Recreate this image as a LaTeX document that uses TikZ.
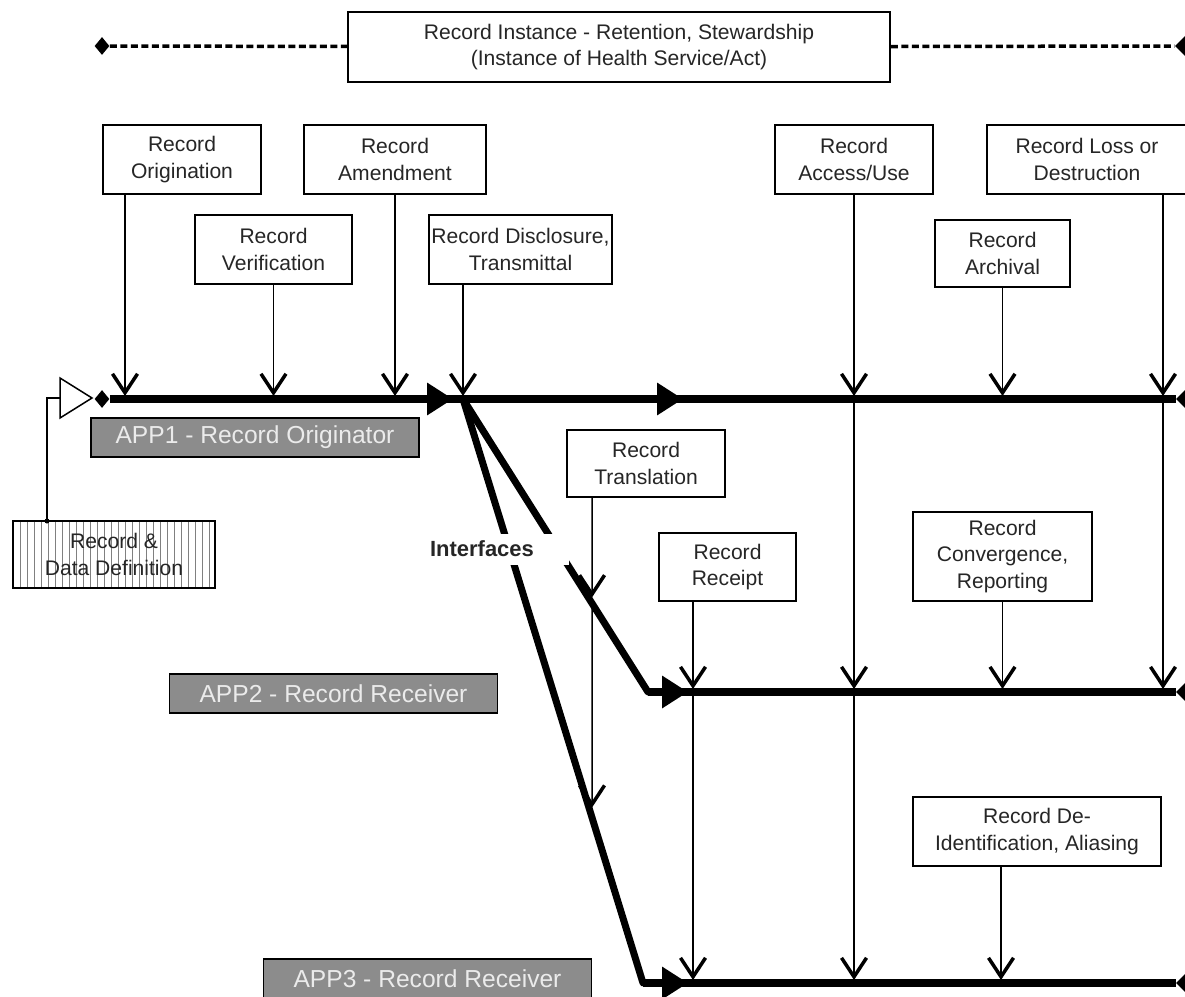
\documentclass[tikz,border=0pt]{standalone}
\usepackage{fontspec}
\setmainfont{Liberation Sans}
\usetikzlibrary{arrows.meta,shapes.geometric,calc}
\begin{document}
\begin{tikzpicture}[x=0.02cm,y=-0.02cm,
  box/.style={draw, line width=0.04cm, fill=white, align=center, inner sep=0, font=\fontsize{12}{15}\selectfont, text=black!85},
  applabel/.style={draw, line width=0.03cm, fill={rgb,255:red,140;green,140;blue,140}, text=white!92!black, font=\fontsize{14}{16}\selectfont, inner sep=0, minimum width=6.56cm, minimum height=0.78cm},
  mainline/.style={line width=0.16cm, line join=round},
  diagline/.style={line width=0.14cm, line cap=round},
  vline/.style={line width=0.03cm, -{Straight Barb[length=0.38cm,width=0.5cm,line width=0.07cm]}, shorten >=0.06cm},
  midtip/.style={line width=0.16cm, -{Triangle[length=0.52cm,width=0.62cm]}},
  enddot/.style={diamond, fill=black, inner sep=0, minimum width=0.4cm, minimum height=0.4cm},
  banner/.style={line width=0.07cm, dash pattern=on 0.14cm off 0.07cm},
]
\useasboundingbox (0,0) rectangle (1185,996);

% ---- top banner
\node[box, minimum width=10.84cm, minimum height=1.4cm] (top) at (619,47) {Record Instance - Retention, Stewardship\\(Instance of Health Service/Act)};
\node[enddot, minimum width=0.3cm, minimum height=0.36cm] (tl) at (102,46) {};
\node[enddot, minimum width=0.4cm, minimum height=0.4cm] (tr) at (1185,46) {};
\draw[banner] (tl) -- (top);
\draw[banner] (top) -- (tr);

% ---- event boxes
\node[box, minimum width=3.16cm, minimum height=1.38cm] (orig) at (182,159.5) {Record\\Origination};
\node[box, minimum width=3.14cm, minimum height=1.38cm] (verif) at (273.5,249.5) {Record\\Verification};
\node[box, minimum width=3.64cm, minimum height=1.38cm] (amend) at (395,159.5) {Record\\Amendment};
\node[box, minimum width=3.66cm, minimum height=1.38cm] (discl) at (520.5,249.5) {Record Disclosure,\\Transmittal};
\node[box, minimum width=3.16cm, minimum height=1.38cm] (access) at (854,159.5) {Record\\Access/Use};
\node[box, minimum width=4.0cm, minimum height=1.38cm] (loss) at (1087,159.5) {Record Loss or\\Destruction};
\node[box, minimum width=2.7cm, minimum height=1.34cm] (arch) at (1002.5,253.5) {Record\\Archival};
\node[box, minimum width=3.16cm, minimum height=1.34cm] (transl) at (646,463.5) {Record\\Translation};
\node[box, minimum width=2.74cm, minimum height=1.36cm] (receipt) at (727.5,567) {Record\\Receipt};
\node[box, minimum width=3.58cm, minimum height=1.78cm] (conv) at (1002.5,556.5) {Record\\Convergence,\\Reporting};
\node[box, minimum width=4.96cm, minimum height=1.38cm] (deid) at (1037,831.5) {Record De-\\Identification, Aliasing};

% ---- record & data definition
\node[box, minimum width=4.04cm, minimum height=1.34cm,
  path picture={\foreach \k in {1,...,29}{\draw[black!50, line width=0.02cm] ($(path picture bounding box.north west)+(\k*7,0)$) -- ($(path picture bounding box.south west)+(\k*7,0)$);}}]
  (rdd) at (114,554.5) {Record \&\\Data Definition};
\draw[line width=0.03cm, fill=white] (60,378) -- (92,398) -- (60,418) -- cycle;
\coordinate (bufin) at (60,398);
\coordinate (rtop) at (47,521);
\draw[line width=0.03cm] (rtop) |- (bufin);
\fill (rtop) circle (2.5);

% ---- main lines
\coordinate (L1) at (0,399);
\coordinate (L2) at (0,692);
\coordinate (L3) at (0,983);
\coordinate (j1) at (463,399);
\coordinate (b2) at (648,692);
\coordinate (b3) at (643,983);
\node[enddot, minimum width=0.3cm, minimum height=0.36cm] (d1) at (102,399) {};
\node[enddot] (e1) at (1186,399) {};
\node[enddot] (e2) at (1186,692) {};
\node[enddot] (e3) at (1186,983) {};
\draw[mainline] (d1) -- (e1);
\draw[diagline] (j1) -- (b2);
\draw[diagline] (j1) -- (b3);
\draw[mainline] (b2) -- (e2);
\draw[mainline] (b3) -- (e3);

\coordinate (t1s) at (425,399); \coordinate (t1) at (453,399);
\coordinate (t2s) at (655,399); \coordinate (t2) at (683,399);
\coordinate (t3s) at (660,692); \coordinate (t3) at (688,692);
\coordinate (t4s) at (660,983); \coordinate (t4) at (688,983);
\draw[midtip] (t1s) -- (t1);
\draw[midtip] (t2s) -- (t2);
\draw[midtip] (t3s) -- (t3);
\draw[midtip] (t4s) -- (t4);

\node[fill=white, inner sep=0, minimum width=3.5cm, minimum height=0.62cm, font=\bfseries\fontsize{12.5}{14}\selectfont, text=black!85] (intf) at (482,549) {Interfaces};

% ---- vertical connectors
\coordinate (oj) at (125,399);
\draw[vline] (orig.south -| oj) -- (oj);
\draw[vline] (verif.south) -- (verif.south |- L1);
\draw[vline] (amend.south) -- (amend.south |- L1);
\draw[vline] (discl.south -| j1) -- (j1);
\draw[vline] (access.south) -- (access.south |- L1);
\draw[vline] (access.south |- L1) -- (access.south |- L2);
\draw[vline] (access.south |- L2) -- (access.south |- L3);
\draw[vline] (arch.south) -- (arch.south |- L1);
\coordinate (lx) at (1163,399);
\draw[vline] (loss.south -| lx) -- (lx);
\draw[vline] (lx) -- (lx |- L2);
\coordinate (tx) at (592,497);
\coordinate (tx2) at (592,995);
\coordinate (i1) at (intersection of tx--tx2 and j1--b2);
\coordinate (i2) at (intersection of tx--tx2 and j1--b3);
\draw[vline, shorten >=0.12cm] (transl.south -| tx) -- (i1);
\draw[vline, shorten >=0.2cm] (i1) -- (i2);
\coordinate (rx) at (693,692);
\draw[vline] (receipt.south -| rx) -- (rx);
\draw[vline] (rx) -- (rx |- L3);
\draw[vline] (conv.south) -- (conv.south |- L2);
\coordinate (dx) at (1001,983);
\draw[vline] (deid.south -| dx) -- (dx);

% ---- application labels
\node[applabel] (app1) at (255,437.5) {APP1 - Record Originator};
\node[applabel] (app2) at (333.5,693.5) {APP2 - Record Receiver};
\node[applabel] (app3) at (427.5,978.5) {APP3 - Record Receiver};
\end{tikzpicture}
\end{document}
